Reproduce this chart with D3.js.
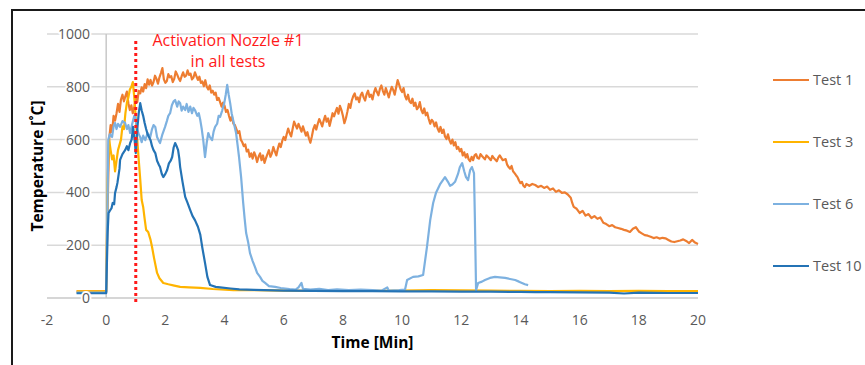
<!DOCTYPE html>
<html lang="en">
	<head>
		<meta charset="utf-8">
		<title>Temperature vs time</title>
		<script src="https://d3js.org/d3.v7.min.js"></script>
		<style>
			body { margin:0; background:#fff; }
			text { font-family:"Open Sans", sans-serif; }
			.tick-label { font-size:14px; fill:#595959; stroke:#fff; stroke-width:4px; paint-order:stroke; }
			.axis-title { font-size:15.5px; font-weight:bold; fill:#000; }
			.legend text { font-size:14.5px; fill:#595959; }
			.note { font-size:16px; fill:#ff1a1a; }
			.grid { stroke:#d9d9d9; stroke-width:1.5; }
			.series { fill:none; stroke-width:2.2; stroke-linejoin:round; }
		</style>
	</head>
	<body>
		<script>
			// canvas and plot box
			const w = 865, h = 365;
			const plotLeft = 47, plotRight = 698, plotTop = 34, plotBottom = 298;

			// tick labels
			const xTicks = [-2, 0, 2, 4, 6, 8, 10, 12, 14, 16, 18, 20];
			const yTicks = [0, 200, 400, 600, 800, 1000];

			const seriesNames = ["Test 1", "Test 3", "Test 6", "Test 10"];
			const seriesColors = ["#ED7D31", "#FFB400", "#7DB1E0", "#2473B5"];

			// [time in min, temperature in °C]
			const test1 = [[-1,25],[-0.5,25],[0,25],[0.05,350],[0.1,600],[0.15,655],[0.2,628],[0.25,690],[0.3,672],[0.35,700],[0.4,735],[0.45,705],[0.5,752],[0.55,770],[0.6,745],[0.65,765],[0.7,782],[0.75,738],[0.8,712],[0.85,730],[0.9,700],[0.95,722],[1.0,755],[1.05,742],[1.1,785],[1.15,775],[1.2,798],[1.25,782],[1.3,810],[1.35,795],[1.4,828],[1.45,808],
				[1.5,826],[1.55,805],[1.6,818],[1.65,842],[1.7,830],[1.75,812],[1.8,836],[1.85,852],[1.9,871],[1.95,828],[2.0,815],[2.05,822],[2.1,848],[2.15,836],[2.2,840],[2.25,818],[2.3,830],[2.35,858],[2.4,846],[2.45,832],[2.5,822],[2.55,840],[2.6,855],[2.65,838],[2.7,842],[2.75,862],[2.8,845],[2.85,850],[2.9,828],[2.95,835],[3.0,855],[3.05,840],[3.1,826],[3.15,838],[3.2,815],[3.25,820],[3.3,802],[3.35,825],[3.4,800],[3.45,790],[3.5,805],[3.55,778],[3.6,785],[3.65,770],[3.7,778],[3.75,750],[3.8,758],[3.85,742],[3.9,725],[3.95,740],[4.0,728],[4.05,705],[4.1,712],[4.15,690],[4.2,672],[4.25,688],[4.3,660],[4.35,655],[4.4,640],[4.45,625],[4.5,632],[4.55,600],[4.6,590],[4.65,575],[4.7,582],[4.75,555],[4.8,562],[4.85,535],[4.9,548],[4.95,528],
				[5.0,552],[5.05,538],[5.1,515],[5.15,535],[5.2,548],[5.25,522],[5.3,540],[5.35,512],[5.4,530],[5.45,545],[5.5,560],[5.55,535],[5.6,548],[5.65,572],[5.7,555],[5.75,540],[5.8,565],[5.85,585],[5.9,572],[5.95,595],[6.0,610],[6.05,598],[6.1,620],[6.15,642],[6.2,625],[6.25,612],[6.3,640],[6.35,668],[6.4,655],[6.45,642],[6.5,660],[6.55,645],[6.6,630],[6.65,650],[6.7,632],[6.75,615],[6.8,628],[6.85,605],[6.9,588],[6.95,612],[7.0,640],[7.05,655],[7.1,638],[7.15,660],[7.2,678],[7.25,665],[7.3,650],[7.35,672],[7.4,690],[7.45,668],[7.5,680],[7.55,652],[7.6,675],[7.65,700],[7.7,688],[7.75,705],[7.8,720],[7.85,698],[7.9,728],[7.95,712],
				[8.0,690],[8.05,662],[8.1,680],[8.15,705],[8.2,735],[8.25,720],[8.3,748],[8.35,765],[8.4,775],[8.45,752],[8.5,760],[8.55,742],[8.6,768],[8.65,778],[8.7,760],[8.75,748],[8.8,772],[8.85,785],[8.9,762],[8.95,770],[9.0,752],[9.05,778],[9.1,795],[9.15,780],[9.2,768],[9.25,792],[9.3,805],[9.35,785],[9.4,770],[9.45,795],[9.5,778],[9.55,760],[9.6,782],[9.65,800],[9.7,788],[9.75,770],[9.8,798],[9.85,825],[9.9,808],[9.95,790],[10.0,780],[10.05,795],[10.1,765],[10.15,752],[10.2,770],[10.25,745],[10.3,738],[10.35,755],[10.4,728],[10.45,740],[10.5,715],[10.55,722],[10.6,742],[10.65,712],[10.7,700],[10.75,718],[10.8,692],[10.85,702],[10.9,678],[10.95,660],
				[11.0,675],[11.05,668],[11.1,650],[11.15,665],[11.2,642],[11.25,630],[11.3,648],[11.35,625],[11.4,638],[11.45,612],[11.5,602],[11.55,620],[11.6,598],[11.65,585],[11.7,600],[11.75,578],[11.8,590],[11.85,565],[11.9,572],[11.95,555],[12.0,565],[12.05,540],[12.1,552],[12.15,532],[12.2,545],[12.25,525],[12.3,518],[12.35,535],[12.4,522],[12.45,540],[12.5,545],[12.55,530],[12.6,528],[12.65,545],[12.7,538],[12.8,525],[12.85,540],[12.9,535],[13.0,522],[13.05,538],[13.1,530],[13.2,518],[13.25,532],[13.3,540],[13.4,522],[13.5,526],
				[13.55,505],[13.6,496],[13.65,490],[13.7,500],[13.75,480],[13.8,473],[13.85,465],[13.9,458],[13.95,445],[14.0,435],[14.05,440],[14.1,425],[14.15,420],[14.2,432],[14.3,425],[14.4,432],[14.5,428],[14.6,420],[14.7,425],[14.8,417],[14.9,422],[15.0,410],[15.1,415],[15.2,402],[15.3,408],[15.4,398],[15.5,400],[15.6,392],[15.7,380],[15.75,360],[15.8,345],[15.9,338],[16.0,322],[16.1,330],[16.2,312],[16.3,318],[16.4,303],[16.5,310],[16.6,300],[16.7,305],[16.8,285],[16.9,280],[17.0,272],[17.1,276],[17.2,268],[17.3,265],[17.4,262],[17.5,258],[17.6,255],[17.7,250],[17.8,262],[17.9,268],[18.0,252],[18.1,245],[18.2,238],[18.3,236],[18.4,232],[18.5,227],[18.6,230],[18.7,225],[18.8,228],[18.9,226],[19.0,220],[19.1,214],[19.2,212],[19.3,215],[19.4,218],[19.5,222],[19.6,216],[19.7,208],[19.8,220],[19.9,210],[20.0,205]];

			const test3 = [[-1,25],[0,25],[0.05,450],[0.1,600],[0.15,560],[0.2,525],[0.25,540],[0.3,480],[0.35,520],[0.4,560],[0.5,600],[0.55,650],[0.6,640],[0.65,700],[0.7,740],[0.75,760],[0.8,790],[0.85,800],[0.9,818],[0.95,760],[1.0,680],[1.05,600],[1.1,523],[1.15,450],[1.2,371],[1.25,345],[1.3,300],[1.35,258],[1.42,250],[1.5,220],[1.55,193],[1.62,150],[1.72,95],[1.8,75],[1.93,57],[2.1,52],[2.3,47],[2.5,42],[2.8,40],[3.18,38],[3.6,34],[4.3,30],[5,30],[6,28],[7,27],[8,27],[9,27],[10,28],[11,30],[12,29],[13,28],[14,27],[15,26],[16,27],[17,26],[18,27],[19,26],[20,26]];

			const test6 = [[-1,20],[0,20],[0.05,400],[0.07,598],[0.12,620],[0.2,610],[0.25,650],[0.3,663],[0.35,640],[0.4,660],[0.47,648],[0.55,670],[0.64,663],[0.7,640],[0.75,655],[0.81,625],[0.88,660],[0.95,690],[0.98,686],[1.05,640],[1.1,620],[1.15,610],[1.2,590],[1.25,615],[1.32,598],[1.4,625],[1.49,610],[1.55,640],[1.6,655],[1.66,648],[1.72,610],[1.78,595],[1.82,587],[1.9,620],[1.99,648],[2.05,670],[2.1,690],[2.16,700],[2.22,730],[2.28,745],[2.33,750],[2.4,725],[2.45,745],[2.5,738],[2.55,710],[2.6,725],[2.67,712],[2.72,735],[2.78,705],[2.84,725],[2.9,700],[2.95,720],[3.0,712],[3.08,690],[3.13,700],[3.18,674],[3.23,640],[3.28,598],[3.34,534],[3.4,590],[3.45,625],[3.5,610],[3.58,598],[3.63,630],[3.68,648],[3.75,660],[3.8,690],[3.85,686],[3.92,710],[3.99,738],[4.04,770],[4.09,807],[4.14,770],[4.19,738],[4.24,700],[4.29,674],[4.34,650],[4.39,625],[4.44,580],[4.49,534],[4.56,458],[4.63,360],[4.68,300],[4.73,246],[4.8,210],[4.86,170],[4.95,140],[5.03,117],[5.1,95],[5.2,80],[5.28,65],[5.37,57],[5.5,45],[5.71,42],[5.9,38],[6.2,34],[6.4,32],[6.5,40],[6.6,57],[6.65,35],[6.9,32],[7.2,35],[7.5,30],[7.8,33],[8.2,30],[8.6,32],[9.0,30],[9.3,28],[9.5,40],[9.55,28],[9.9,30],[10.1,32],[10.17,68],[10.37,80],[10.55,82],[10.71,87],[10.84,193],[10.95,295],[11.05,360],[11.15,400],[11.28,430],[11.45,458],[11.55,440],[11.62,425],[11.7,430],[11.79,440],[11.89,470],[11.95,495],[12.03,511],[12.1,480],[12.16,458],[12.23,447],[12.3,485],[12.36,496],[12.43,473],[12.46,300],[12.5,30],[12.57,57],[12.7,62],[12.8,68],[12.97,76],[13.14,80],[13.3,78],[13.48,76],[13.65,72],[13.82,68],[13.95,62],[14.05,57],[14.15,52],[14.26,49]];

			const test10 = [[-1,18],[0,18],[0.05,250],[0.08,322],[0.12,330],[0.18,340],[0.22,360],[0.27,355],[0.3,398],[0.35,420],[0.38,436],[0.45,490],[0.47,523],[0.55,545],[0.64,560],[0.7,575],[0.75,560],[0.81,587],[0.86,600],[0.91,648],[0.96,600],[1.0,549],[1.05,640],[1.1,700],[1.15,738],[1.2,710],[1.25,690],[1.3,663],[1.35,640],[1.4,620],[1.5,598],[1.55,575],[1.6,560],[1.66,549],[1.72,520],[1.78,505],[1.82,496],[1.88,470],[1.93,458],[2.0,470],[2.06,485],[2.12,510],[2.18,520],[2.23,534],[2.28,570],[2.33,587],[2.38,575],[2.43,560],[2.47,530],[2.5,496],[2.58,440],[2.67,383],[2.75,360],[2.84,333],[2.92,310],[3.0,295],[3.1,270],[3.18,240],[3.25,190],[3.34,133],[3.42,80],[3.51,49],[3.7,42],[3.85,40],[4.2,36],[4.5,33],[5,31],[6,28],[7,27],[8,26],[9,26],[10,25],[11,25],[12,24],[13,24],[14,23],[14.5,22],[15,22],[16,21],[17,20],[17.5,17],[18,20],[19,19],[20,19]];

			const series = [test1, test3, test6, test10];

			// nozzle activation marker
			const activationTime = 1;
			const noteLines = ["Activation Nozzle #1", "in all tests"];

			const svg = d3.select("body")
						.append("svg")
						.attr("width", w)
						.attr("height", h);

			// frame (only left and top edges are inside the picture)
			svg.append("rect")
				.attr("x", 12).attr("y", 10)
				.attr("width", 900).attr("height", 400)
				.attr("fill", "none")
				.attr("stroke", "#1a1a1a")
				.attr("stroke-width", 2);

			const xScale = d3.scaleLinear().domain([-2, 20]).range([plotLeft, plotRight]);
			const yScale = d3.scaleLinear().domain([0, 1000]).range([plotBottom, plotTop]);

			// horizontal grid
			svg.append("g")
				.selectAll("line")
				.data(yTicks)
				.enter()
				.append("line")
				.attr("class", "grid")
				.attr("x1", plotLeft).attr("x2", plotRight)
				.attr("y1", d => yScale(d)).attr("y2", d => yScale(d))
				.style("stroke", d => d === 0 ? "#c8c8c8" : null);

			// vertical axis at t = 0
			svg.append("line")
				.attr("x1", xScale(0)).attr("x2", xScale(0))
				.attr("y1", yScale(1000)).attr("y2", yScale(0))
				.attr("stroke", "#c8c8c8")
				.attr("stroke-width", 1.5);

			// series
			const line = d3.line()
						.x(d => xScale(d[0]))
						.y(d => yScale(d[1]));

			series.forEach((s, i) => {
				svg.append("path")
					.datum(s)
					.attr("class", "series")
					.attr("stroke", seriesColors[i])
					.attr("d", line);
			});

			// tick labels
			svg.append("g")
				.selectAll("text")
				.data(yTicks)
				.enter()
				.append("text")
				.attr("class", "tick-label")
				.attr("x", 90)
				.attr("y", d => yScale(d) + 5)
				.attr("text-anchor", "end")
				.text(d => d);

			svg.append("g")
				.selectAll("text")
				.data(xTicks)
				.enter()
				.append("text")
				.attr("class", "tick-label")
				.attr("x", d => xScale(d))
				.attr("y", 325)
				.attr("text-anchor", "middle")
				.text(d => d);

			// axis titles
			svg.append("text")
				.attr("class", "axis-title")
				.attr("x", (plotLeft + plotRight) / 2)
				.attr("y", 348)
				.attr("text-anchor", "middle")
				.text("Time [Min]");

			svg.append("text")
				.attr("class", "axis-title")
				.attr("transform", "translate(43," + ((plotTop + plotBottom) / 2) + ") rotate(-90)")
				.attr("text-anchor", "middle")
				.text("Temperature [˚C]");

			// red dotted activation line
			svg.append("line")
				.attr("x1", xScale(activationTime)).attr("x2", xScale(activationTime))
				.attr("y1", 41).attr("y2", 304)
				.attr("stroke", "#ff1a1a")
				.attr("stroke-width", 3)
				.attr("stroke-dasharray", "3,3");

			svg.append("g")
				.selectAll("text")
				.data(noteLines)
				.enter()
				.append("text")
				.attr("class", "note")
				.attr("x", 228)
				.attr("y", (d, i) => 46 + i * 21)
				.attr("text-anchor", "middle")
				.text(d => d);

			// legend
			seriesNames.forEach((name, i) => {
				const g = svg.append("g")
							.attr("class", "legend")
							.attr("transform", "translate(773," + (80 + i * 62) + ")");
				g.append("line")
					.attr("x1", 0).attr("x2", 36)
					.attr("stroke", seriesColors[i])
					.attr("stroke-width", 2);
				g.append("text")
					.attr("x", 40)
					.attr("y", 5)
					.text(name);
			});
		</script>
	</body>
</html>
